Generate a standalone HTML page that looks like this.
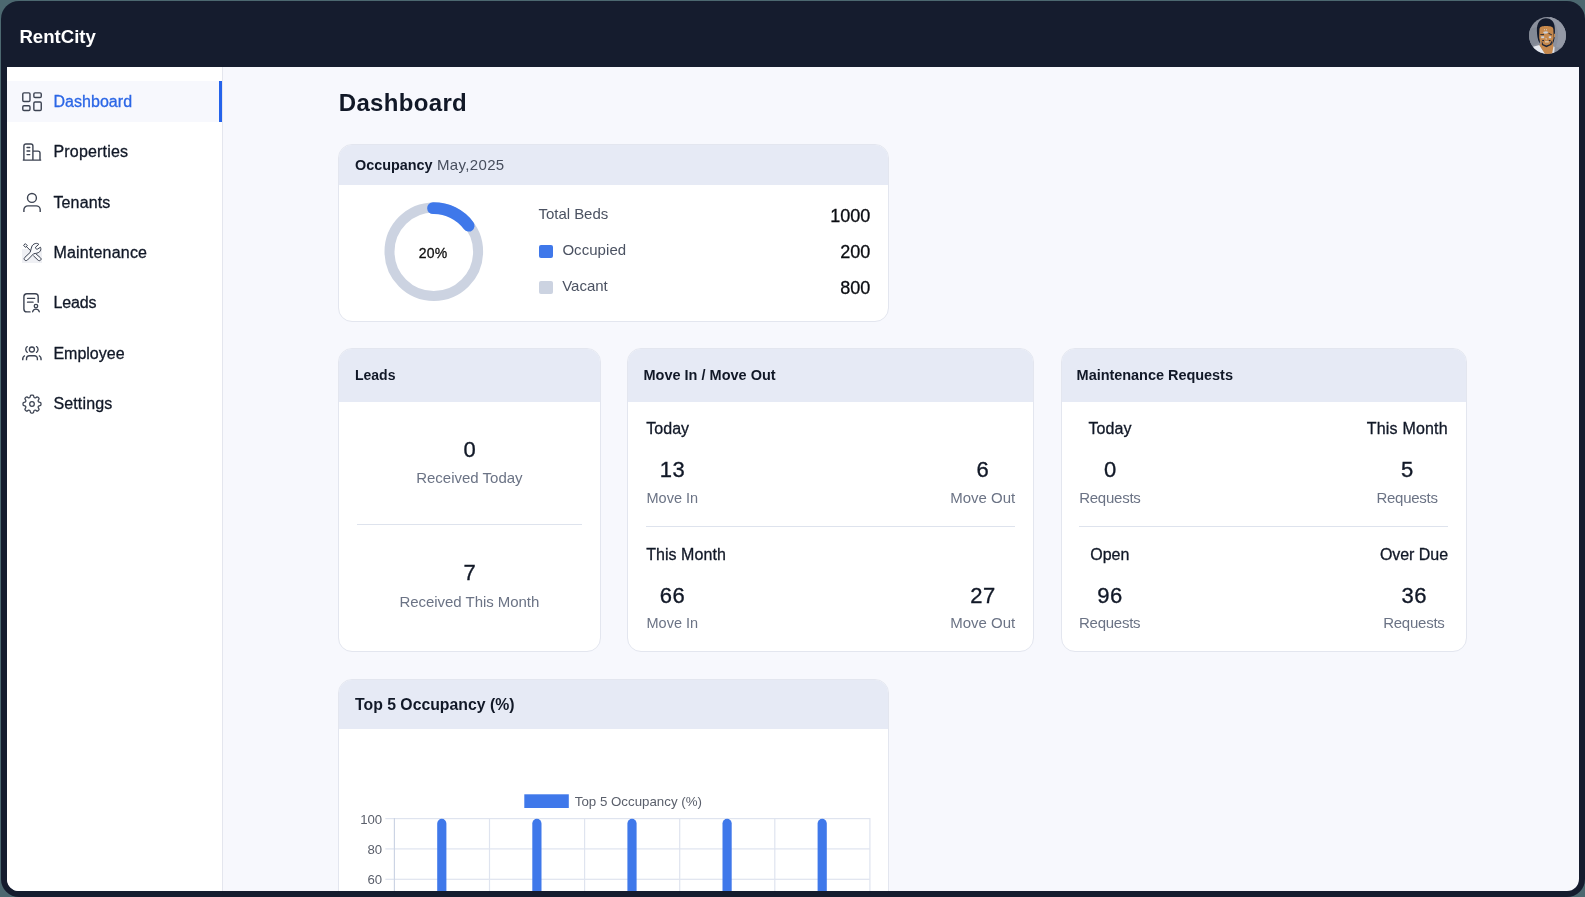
<!DOCTYPE html>
<html lang="en">
<head>
<meta charset="utf-8">
<title>RentCity Dashboard</title>
<style>
*{box-sizing:border-box;margin:0;padding:0}
html,body{width:1585px;height:897px;overflow:hidden}
body{background:#4c6870;font-family:"Liberation Sans",sans-serif;position:relative}
.t{position:absolute;white-space:pre}
#root{position:absolute;left:0;top:0;width:1585px;height:897px;will-change:transform}
.frame{position:absolute;left:1px;top:1px;width:1584px;height:896px;background:#151c2e;border-radius:18px}
.inner{position:absolute;left:7px;top:67px;width:1572px;height:824px;background:#f7f8fd;border-radius:0 0 12px 12px;overflow:hidden}
.side{position:absolute;left:0;top:0;width:216px;height:824px;background:#fff;border-right:1px solid #e4e6ee}
.active{position:absolute;left:0;top:14px;width:215px;height:41px;background:#f7f8fd}
.active i{position:absolute;right:0;top:0;width:3px;height:41px;background:#2563eb}
.card{position:absolute;background:#fff;border:1px solid #e3e6ef;border-radius:14px;overflow:hidden}
.card .hd{position:absolute;left:0;top:0;right:0;background:#e6eaf5}
.hr{position:absolute;height:1px;background:#dee3ed}
.sw{position:absolute;width:13.5px;height:13.5px;border-radius:2px}
svg{position:absolute;overflow:visible}
</style>
</head>
<body>
<div id="root">
<div class="frame"></div>
<div class="t" style="top:24px;font-size:18.6px;line-height:25px;color:#ffffff;font-weight:700;left:19.40px;">RentCity</div>
<svg style="left:1529px;top:16.6px" width="37" height="37" viewBox="0 0 37 37">
<defs><clipPath id="av"><circle cx="18.5" cy="18.5" r="18.5"/></clipPath></defs>
<g clip-path="url(#av)">
<rect width="37" height="37" fill="#8b909d"/>
<path d="M21 3 C29 6 31 18 27 30 L37 32 L37 0 L21 0Z" fill="#9499a6"/>
<path d="M0 12 L8 10 L9 26 L0 30Z" fill="#828895"/>
<path d="M3 30 L10.5 28 L16.4 37 L1 37Z" fill="#e6e9f0"/>
<path d="M23.5 29 L25.6 30 L25.2 37 L22.6 37Z" fill="#dde1ea"/>
<path d="M10.3 28 L14 24 L24 24 L24.3 30 L23 37 L16 37Z" fill="#c6884c"/>
<path d="M7.9 14 C7.6 5 12 1.2 16.9 1.2 C22.6 1.2 26.3 5 25.9 14 C25.7 19 25.9 23 23.6 27.2 L22.5 18 L11.5 18 L10.6 26.6 C8.3 22 8.1 18 7.9 14Z" fill="#131a2c"/>
<path d="M10.4 12.8 C10.6 9.6 13 9.1 17 9.1 C21.5 9.1 24.2 9.6 24.4 12.8 L24.7 20 C24.7 25 21 29.6 17.4 29.6 C13.5 29.6 10.2 25 10.2 20Z" fill="#c6884c"/>
<rect x="25" y="16.8" width="1.1" height="3.4" fill="#c6884c"/>
<rect x="12.2" y="19.3" width="3" height="1.9" fill="#cfd5df"/><rect x="19.8" y="19.3" width="2.3" height="1.9" fill="#cfd5df"/>
<path d="M13.8 15 L17 14.2 L19.6 15 L18 16.5 L15.6 16.8Z" fill="#c9ced8"/>
<rect x="15" y="12.3" width="0.9" height="0.9" fill="#ddd"/><rect x="17" y="12.3" width="0.9" height="0.9" fill="#ddd"/>
<path d="M16.8 20.4 L18 22.4 L16.6 22.2Z" fill="#d9dde6"/>
<rect x="16" y="24.3" width="3.8" height="1.1" fill="#e6d8c8"/>
<path d="M12.8 24 L14.2 27.2 L17.4 28.6 L20.8 27.2 L23.3 23 L22.6 27.8 L17.4 30.2 L12.9 28Z" fill="#1c2438"/>
<path d="M13.2 23.6 h1.8 M19.8 23.6 h1.8" stroke="#1c2438" stroke-width="1"/>
<path d="M11.3 17.6 h3.7 M19.5 16.3 L22.9 17.9" stroke="#1c2438" stroke-width="0.9"/>
</g></svg>
<div class="inner">
<div class="side"><div class="active"><i></i></div></div>
</div>
<div class="t" style="top:91px;font-size:16px;line-height:21px;color:#2b66e6;letter-spacing:0.05px;-webkit-text-stroke:0.3px #2b66e6;left:53.40px;">Dashboard</div>
<div class="t" style="top:141px;font-size:16px;line-height:21px;color:#111827;letter-spacing:0.2px;-webkit-text-stroke:0.3px #111827;left:53.40px;">Properties</div>
<div class="t" style="top:192px;font-size:16px;line-height:21px;color:#111827;letter-spacing:0.15px;-webkit-text-stroke:0.3px #111827;left:53.40px;">Tenants</div>
<div class="t" style="top:242px;font-size:16px;line-height:21px;color:#111827;letter-spacing:0.2px;-webkit-text-stroke:0.3px #111827;left:53.40px;">Maintenance</div>
<div class="t" style="top:292px;font-size:16px;line-height:21px;color:#111827;letter-spacing:-0.1px;-webkit-text-stroke:0.3px #111827;left:53.40px;">Leads</div>
<div class="t" style="top:343px;font-size:16px;line-height:21px;color:#111827;-webkit-text-stroke:0.3px #111827;left:53.40px;">Employee</div>
<div class="t" style="top:393px;font-size:16px;line-height:21px;color:#111827;letter-spacing:0.15px;-webkit-text-stroke:0.3px #111827;left:53.40px;">Settings</div>
<svg style="left:20.00px;top:89.50px" width="24" height="24" viewBox="0 0 24 24" fill="none" stroke="#3c4352" stroke-width="1.4" stroke-linecap="round" stroke-linejoin="round"><rect x="2.78" y="2.9" width="7.2" height="8.6" rx="1.2"/><rect x="13.85" y="2.9" width="7.4" height="4.6" rx="1.2"/><rect x="2.78" y="15.75" width="7.2" height="4.7" rx="1.2"/><rect x="13.85" y="11.95" width="7.4" height="8.5" rx="1.2"/></svg>
<svg style="left:20.00px;top:139.90px" width="24" height="24" viewBox="0 0 24 24" fill="none" stroke="#3c4352" stroke-width="1.4" stroke-linecap="round" stroke-linejoin="round"><path d="M3.9 20.1 V6 a2 2 0 0 1 2-2 h5 a2 2 0 0 1 2 2 V20.1 M12.9 11.1 h5.1 a2 2 0 0 1 2 2 V20.1 M2.8 20.1 H21.2" stroke-linecap="butt"/><path d="M7 7.5 h2.8 M7 11 h2.8 M7 14.6 h2.8" stroke-width="1.3"/></svg>
<svg style="left:20.00px;top:190.30px" width="24" height="24" viewBox="0 0 24 24" fill="none" stroke="#3c4352" stroke-width="1.4" stroke-linecap="round" stroke-linejoin="round"><circle cx="11.95" cy="7.95" r="4.45"/><path d="M3.9 22.05 v-2.2 a4 4 0 0 1 4-4 h8.3 a4 4 0 0 1 4 4 v2.2" stroke-linecap="butt"/></svg>
<div style="position:absolute;left:22px;top:248.5px;width:20px;height:14px;background:#eff0f4"></div>
<svg style="left:0;top:0" width="60" height="300" viewBox="0 0 60 300" fill="none" stroke="#3a4150" stroke-width="1.0" stroke-linecap="round" stroke-linejoin="round"><path d="M25.58 243.90 L27.30 245.62 L25.58 247.43 L23.87 245.62 Z M26.90 247.02 L30.33 250.46 M36.10 253.98 L40.53 257.85 C41.41 258.66 41.16 259.73 40.53 260.22 C39.85 260.85 38.76 260.85 37.98 260.13 L33.61 255.92" fill="#f8f9fb"/><path d="M30.33 252.02 C31.26 249.99 30.95 247.65 32.04 245.93 C33.14 244.21 34.85 243.37 36.41 243.37 C37.35 243.37 38.29 243.75 38.85 244.31 L35.63 247.12 C35.10 248.18 36.10 249.36 37.41 249.11 L40.53 247.24 C41.25 249.05 40.72 250.77 39.54 251.86 C37.98 253.26 35.48 253.42 33.61 253.73 L27.52 259.98 C26.58 260.85 25.18 260.76 24.49 259.82 C23.87 258.98 23.99 258.10 24.71 257.48 Z" fill="#f8f9fb"/></svg>
<svg style="left:20.00px;top:291.10px" width="24" height="24" viewBox="0 0 24 24" fill="none" stroke="#3c4352" stroke-width="1.4" stroke-linecap="round" stroke-linejoin="round"><path d="M18.2 11.3 V5.8 a3 3 0 0 0 -3 -3 H6.9 a3 3 0 0 0 -3 3 V17.9 a3 3 0 0 0 3 3 H10"/><path d="M7.5 7.4 h7.2 M7.5 11.2 h5.6" stroke-width="1.3"/><circle cx="15.95" cy="15.05" r="1.75" stroke-width="1.3"/><path d="M12.6 20.8 c0.5-1.7 1.7-2.6 3.35-2.6 s2.85 0.9 3.35 2.6" stroke-width="1.3"/></svg>
<svg style="left:20.00px;top:341.50px" width="24" height="24" viewBox="0 0 24 24" fill="none" stroke="#3c4352" stroke-width="1.4" stroke-linecap="round" stroke-linejoin="round"><circle cx="11.9" cy="7.5" r="2.5" stroke-width="1.3"/><path d="M7.3 4.6 C5.2 6.2 5.2 8.8 7.3 10.4 M16.5 4.6 C18.6 6.2 18.6 8.8 16.5 10.4" stroke-width="1.3"/><path d="M6.5 18.3 v-1.6 a3 3 0 0 1 3-3 h4.9 a3 3 0 0 1 3 3 v1.6 M2.7 18.3 c-0.2-2.4 0.6-4 2.2-4.8 M21.1 18.3 c0.2-2.4-0.6-4-2.2-4.8" stroke-width="1.35" stroke-linecap="butt"/></svg>
<svg style="left:20.00px;top:391.90px" width="24" height="24" viewBox="0 0 24 24" fill="none" stroke="#3c4352" stroke-width="1.25" stroke-linecap="round" stroke-linejoin="round"><path d="M10.343 3.94c.09-.542.56-.94 1.11-.94h1.093c.55 0 1.02.398 1.11.94l.149.894c.07.424.384.764.78.93.398.164.855.142 1.205-.108l.737-.527a1.125 1.125 0 011.45.12l.773.774c.39.389.44 1.002.12 1.45l-.527.737c-.25.35-.272.806-.107 1.204.165.397.505.71.93.78l.893.15c.543.09.94.56.94 1.109v1.094c0 .55-.397 1.02-.94 1.11l-.893.149c-.425.07-.765.383-.93.78-.165.398-.143.854.107 1.204l.527.738c.32.447.269 1.06-.12 1.45l-.774.773a1.125 1.125 0 01-1.449.12l-.738-.527c-.35-.25-.806-.272-1.203-.107-.397.165-.71.505-.781.929l-.149.894c-.09.542-.56.94-1.11.94h-1.094c-.55 0-1.019-.398-1.11-.94l-.148-.894c-.071-.424-.384-.764-.781-.93-.398-.164-.854-.142-1.204.108l-.738.527c-.447.32-1.06.269-1.45-.12l-.773-.774a1.125 1.125 0 01-.12-1.45l.527-.737c.25-.35.273-.806.108-1.204-.165-.397-.505-.71-.93-.78l-.894-.15c-.542-.09-.94-.56-.94-1.109v-1.094c0-.55.398-1.02.94-1.11l.894-.149c.424-.07.765-.383.93-.78.165-.398.143-.854-.107-1.204l-.527-.738a1.125 1.125 0 01.12-1.45l.773-.773a1.125 1.125 0 011.45-.12l.737.527c.35.25.807.272 1.204.107.397-.165.71-.505.78-.929l.15-.894z"/><circle cx="12" cy="12" r="2.3"/></svg>
<div class="t" style="top:87px;font-size:24px;line-height:31px;color:#111827;font-weight:700;letter-spacing:0.32px;left:338.80px;">Dashboard</div>
<div class="card" style="left:338px;top:144px;width:551px;height:177.5px"><div class="hd" style="height:40px"></div></div>
<div class="t" style="top:155px;font-size:14.4px;line-height:20px;color:#111827;font-weight:700;left:355.00px;">Occupancy</div>
<div class="t" style="top:154px;font-size:15px;line-height:21px;color:#474e5d;letter-spacing:0.35px;left:437.00px;">May,2025</div>
<svg style="left:0;top:0" width="1585" height="897" viewBox="0 0 1585 897"><circle cx="433.8" cy="251.7" r="44.3" fill="none" stroke="#ccd3e1" stroke-width="10"/><path d="M433.04 208.21 A43.5 43.5 0 0 1 468.68 225.70" fill="none" stroke="#3f78ea" stroke-width="11.8" stroke-linecap="round"/></svg>
<div class="t" style="top:243px;font-size:14px;line-height:20px;color:#111111;letter-spacing:0.2px;-webkit-text-stroke:0.3px #111111;left:233.00px;width:400px;text-align:center;">20%</div>
<div class="t" style="top:203px;font-size:15px;line-height:21px;color:#4b5262;letter-spacing:-0.05px;left:538.60px;">Total Beds</div>
<div class="sw" style="left:539.3px;top:244.8px;background:#3f78ea"></div>
<div class="t" style="top:239px;font-size:15px;line-height:21px;color:#4b5262;letter-spacing:0.05px;left:562.40px;">Occupied</div>
<div class="sw" style="left:539.3px;top:280.8px;background:#ccd3e1"></div>
<div class="t" style="top:275px;font-size:15px;line-height:21px;color:#4b5262;left:562.20px;">Vacant</div>
<div class="t" style="top:204px;font-size:18px;line-height:24px;color:#0b0d12;-webkit-text-stroke:0.3px #0b0d12;left:470.30px;width:400px;text-align:right;">1000</div>
<div class="t" style="top:240px;font-size:18px;line-height:24px;color:#0b0d12;-webkit-text-stroke:0.3px #0b0d12;left:470.30px;width:400px;text-align:right;">200</div>
<div class="t" style="top:276px;font-size:18px;line-height:24px;color:#0b0d12;-webkit-text-stroke:0.3px #0b0d12;left:470.30px;width:400px;text-align:right;">800</div>
<div class="card" style="left:338px;top:348px;width:262.5px;height:303.5px"><div class="hd" style="height:53px"></div></div>
<div class="t" style="top:365px;font-size:14px;line-height:20px;color:#111827;font-weight:700;left:355.00px;">Leads</div>
<div class="t" style="top:435px;font-size:22px;line-height:29px;color:#111827;letter-spacing:0.5px;-webkit-text-stroke:0.35px #111827;left:269.85px;width:400px;text-align:center;">0</div>
<div class="t" style="top:467px;font-size:15px;line-height:21px;color:#6b7385;left:269.40px;width:400px;text-align:center;">Received Today</div>
<div class="hr" style="left:357px;top:523.5px;width:225px"></div>
<div class="t" style="top:558px;font-size:22px;line-height:29px;color:#111827;letter-spacing:0.5px;-webkit-text-stroke:0.35px #111827;left:269.85px;width:400px;text-align:center;">7</div>
<div class="t" style="top:591px;font-size:15px;line-height:21px;color:#6b7385;letter-spacing:-0.04px;left:269.38px;width:400px;text-align:center;">Received This Month</div>
<div class="card" style="left:627px;top:348px;width:407px;height:303.5px"><div class="hd" style="height:53px"></div></div>
<div class="t" style="top:365px;font-size:14.5px;line-height:20px;color:#111827;font-weight:700;left:643.50px;">Move In / Move Out</div>
<div class="t" style="top:418px;font-size:16px;line-height:21px;color:#111827;letter-spacing:0.05px;-webkit-text-stroke:0.3px #111827;left:646.20px;">Today</div>
<div class="t" style="top:455px;font-size:22px;line-height:29px;color:#111827;letter-spacing:0.5px;-webkit-text-stroke:0.35px #111827;left:472.55px;width:400px;text-align:center;">13</div>
<div class="t" style="top:488px;font-size:14.5px;line-height:20px;color:#6b7385;left:472.30px;width:400px;text-align:center;">Move In</div>
<div class="t" style="top:455px;font-size:22px;line-height:29px;color:#111827;letter-spacing:0.5px;-webkit-text-stroke:0.35px #111827;left:782.95px;width:400px;text-align:center;">6</div>
<div class="t" style="top:487px;font-size:15px;line-height:21px;color:#6b7385;left:782.70px;width:400px;text-align:center;">Move Out</div>
<div class="t" style="top:544px;font-size:16px;line-height:21px;color:#111827;letter-spacing:0.05px;-webkit-text-stroke:0.3px #111827;left:646.20px;">This Month</div>
<div class="t" style="top:581px;font-size:22px;line-height:29px;color:#111827;letter-spacing:0.5px;-webkit-text-stroke:0.35px #111827;left:472.55px;width:400px;text-align:center;">66</div>
<div class="t" style="top:613px;font-size:14.5px;line-height:20px;color:#6b7385;left:472.30px;width:400px;text-align:center;">Move In</div>
<div class="t" style="top:581px;font-size:22px;line-height:29px;color:#111827;letter-spacing:0.5px;-webkit-text-stroke:0.35px #111827;left:782.95px;width:400px;text-align:center;">27</div>
<div class="t" style="top:612px;font-size:15px;line-height:21px;color:#6b7385;left:782.70px;width:400px;text-align:center;">Move Out</div>
<div class="hr" style="left:646px;top:525.5px;width:369px"></div>
<div class="card" style="left:1061px;top:348px;width:405.5px;height:303.5px"><div class="hd" style="height:53px"></div></div>
<div class="t" style="top:365px;font-size:14.5px;line-height:20px;color:#111827;font-weight:700;letter-spacing:-0.04px;left:1076.60px;">Maintenance Requests</div>
<div class="t" style="top:418px;font-size:16px;line-height:21px;color:#111827;letter-spacing:0.05px;-webkit-text-stroke:0.3px #111827;left:910.02px;width:400px;text-align:center;">Today</div>
<div class="t" style="top:455px;font-size:22px;line-height:29px;color:#111827;letter-spacing:0.5px;-webkit-text-stroke:0.35px #111827;left:910.25px;width:400px;text-align:center;">0</div>
<div class="t" style="top:487px;font-size:15px;line-height:21px;color:#6b7385;letter-spacing:-0.25px;left:909.88px;width:400px;text-align:center;">Requests</div>
<div class="t" style="top:418px;font-size:16px;line-height:21px;color:#111827;letter-spacing:0.2px;-webkit-text-stroke:0.3px #111827;left:1207.30px;width:400px;text-align:center;">This Month</div>
<div class="t" style="top:455px;font-size:22px;line-height:29px;color:#111827;letter-spacing:0.5px;-webkit-text-stroke:0.35px #111827;left:1207.45px;width:400px;text-align:center;">5</div>
<div class="t" style="top:487px;font-size:15px;line-height:21px;color:#6b7385;letter-spacing:-0.25px;left:1207.08px;width:400px;text-align:center;">Requests</div>
<div class="t" style="top:544px;font-size:16px;line-height:21px;color:#111827;letter-spacing:0.05px;-webkit-text-stroke:0.3px #111827;left:909.82px;width:400px;text-align:center;">Open</div>
<div class="t" style="top:581px;font-size:22px;line-height:29px;color:#111827;letter-spacing:0.5px;-webkit-text-stroke:0.35px #111827;left:910.05px;width:400px;text-align:center;">96</div>
<div class="t" style="top:612px;font-size:15px;line-height:21px;color:#6b7385;letter-spacing:-0.25px;left:909.67px;width:400px;text-align:center;">Requests</div>
<div class="t" style="top:544px;font-size:16px;line-height:21px;color:#111827;letter-spacing:-0.05px;-webkit-text-stroke:0.3px #111827;left:1213.97px;width:400px;text-align:center;">Over Due</div>
<div class="t" style="top:581px;font-size:22px;line-height:29px;color:#111827;letter-spacing:0.5px;-webkit-text-stroke:0.35px #111827;left:1214.25px;width:400px;text-align:center;">36</div>
<div class="t" style="top:612px;font-size:15px;line-height:21px;color:#6b7385;letter-spacing:-0.25px;left:1213.88px;width:400px;text-align:center;">Requests</div>
<div class="hr" style="left:1079px;top:525.5px;width:369px"></div>
<div class="card" style="left:338px;top:679px;width:551px;height:240px;border-radius:14px 14px 0 0"><div class="hd" style="height:49px"></div></div>
<div class="t" style="top:694px;font-size:15.8px;line-height:21px;color:#111827;font-weight:700;left:355.00px;">Top 5 Occupancy (%)</div>
<svg style="left:0;top:0" width="1585" height="897" viewBox="0 0 1585 897"><rect x="385.3" y="818.0" width="484.6" height="1.2" fill="#dfe4ef"/><rect x="385.3" y="848.3" width="484.6" height="1.2" fill="#dfe4ef"/><rect x="385.3" y="878.7" width="484.6" height="1.2" fill="#dfe4ef"/><rect x="393.8" y="818" width="1.2" height="80" fill="#ccd4e4"/><rect x="488.9" y="818" width="1.2" height="80" fill="#dfe4ef"/><rect x="584.0" y="818" width="1.2" height="80" fill="#dfe4ef"/><rect x="679.1" y="818" width="1.2" height="80" fill="#dfe4ef"/><rect x="774.2" y="818" width="1.2" height="80" fill="#dfe4ef"/><rect x="869.3" y="818" width="1.2" height="80" fill="#dfe4ef"/><path d="M437.2 897 V823.4 a4.6 4.6 0 0 1 9.2 0 V897Z" fill="#3f78ea"/><path d="M532.3 897 V823.4 a4.6 4.6 0 0 1 9.2 0 V897Z" fill="#3f78ea"/><path d="M627.4 897 V823.4 a4.6 4.6 0 0 1 9.2 0 V897Z" fill="#3f78ea"/><path d="M722.5 897 V823.4 a4.6 4.6 0 0 1 9.2 0 V897Z" fill="#3f78ea"/><path d="M817.6 897 V823.4 a4.6 4.6 0 0 1 9.2 0 V897Z" fill="#3f78ea"/><rect x="524.3" y="794.3" width="44.5" height="13.7" fill="#3f78ea"/></svg>
<div class="t" style="top:792px;font-size:13.3px;line-height:19px;color:#5a5f6b;left:574.80px;">Top 5 Occupancy (%)</div>
<div class="t" style="top:810px;font-size:13.2px;line-height:19px;color:#5a5f6b;left:-17.80px;width:400px;text-align:right;">100</div>
<div class="t" style="top:840px;font-size:13.2px;line-height:19px;color:#5a5f6b;left:-17.80px;width:400px;text-align:right;">80</div>
<div class="t" style="top:870px;font-size:13.2px;line-height:19px;color:#5a5f6b;left:-17.80px;width:400px;text-align:right;">60</div>
<div style="position:absolute;left:30px;top:891px;width:1520px;height:6px;background:#151c2e"></div>
</div>
</body>
</html>
